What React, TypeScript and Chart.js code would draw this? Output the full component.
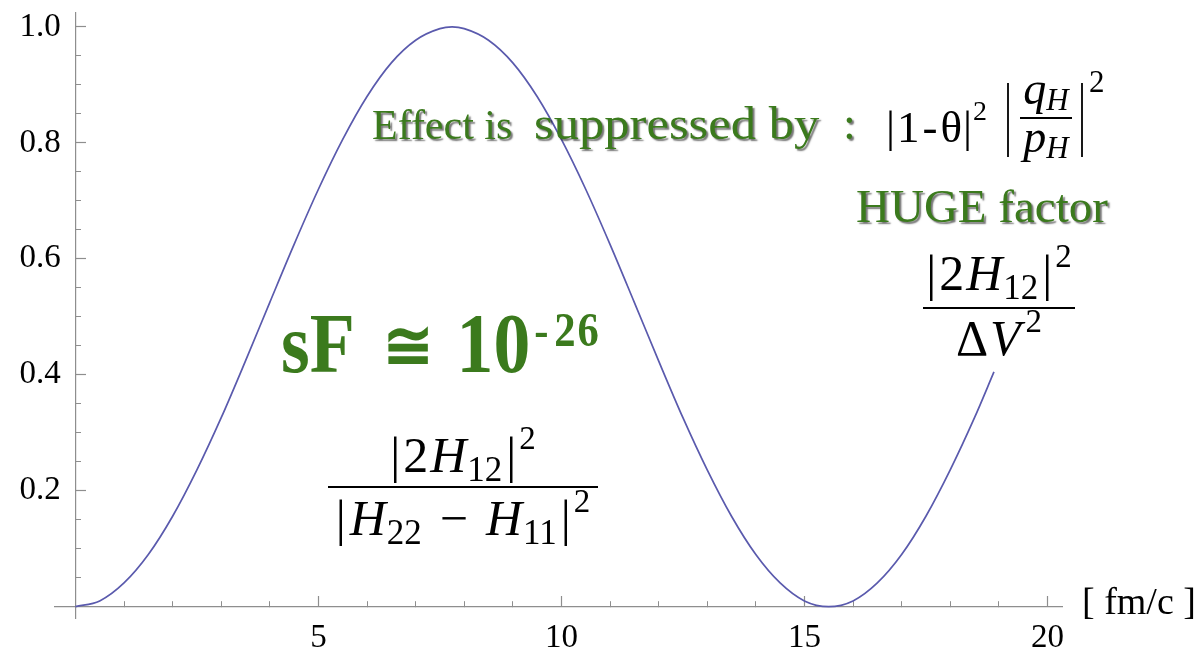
import { useEffect, useRef } from "react";
import { Chart, registerables } from "chart.js";

Chart.register(...registerables);

// Transition probability vs. time (fm/c)
const timeFmC = [
  0, 0.5, 1, 1.5, 2, 2.5, 3, 3.5, 4, 4.5, 5, 5.5, 6, 6.5, 7, 7.5, 7.75, 8, 8.5, 9, 9.5, 10,
  10.5, 11, 11.5, 12, 12.5, 13, 13.5, 14, 14.5, 15, 15.5, 16, 16.5, 17, 17.5, 18, 18.5, 18.9,
];
const probability = [
  0, 0.01, 0.041, 0.09, 0.156, 0.236, 0.326, 0.424, 0.525, 0.625, 0.72, 0.806, 0.88, 0.938,
  0.977, 0.997, 1.0, 0.997, 0.977, 0.938, 0.88, 0.806, 0.72, 0.625, 0.525, 0.424, 0.326, 0.236,
  0.156, 0.09, 0.041, 0.01, 0, 0.01, 0.041, 0.09, 0.156, 0.236, 0.326, 0.405,
];

const xMinorTicks = [1, 2, 3, 4, 6, 7, 8, 9, 11, 12, 13, 14, 16, 17, 18, 19];
const xMajorTicks = [5, 10, 15, 20];
const yMinorTicks = [
  0.05, 0.1, 0.15, 0.25, 0.3, 0.35, 0.45, 0.5, 0.55, 0.65, 0.7, 0.75, 0.85, 0.9, 0.95,
];
const yMajorTicks = [0.2, 0.4, 0.6, 0.8, 1.0];
const xUnitLabel = "[ fm/c ]";

const X_MIN = -0.42;
const X_MAX = 20.3;
const Y_MIN = -0.0195;
const Y_MAX = 1.024;

const SERIF = '"Liberation Serif", "Times New Roman", Times, serif';
const GREEN = "#3b7a1d";
const INK = "#000000";
const AXIS = "#8e8e8e";

type Piece = { t: string; s: number; it?: boolean; b?: boolean; dy?: number; gap?: number };

const fontOf = (p: Piece) => `${p.it ? "italic " : ""}${p.b ? "bold " : ""}${p.s}px ${SERIF}`;

function runWidth(ctx: CanvasRenderingContext2D, pieces: Piece[]) {
  let w = 0;
  for (const p of pieces) {
    ctx.font = fontOf(p);
    w += (p.gap || 0) + ctx.measureText(p.t).width;
  }
  return w;
}

function drawRun(
  ctx: CanvasRenderingContext2D,
  pieces: Piece[],
  x: number,
  y: number,
  align: "left" | "center" = "left"
) {
  let cx = align === "center" ? x - runWidth(ctx, pieces) / 2 : x;
  ctx.textAlign = "left";
  ctx.textBaseline = "alphabetic";
  for (const p of pieces) {
    cx += p.gap || 0;
    ctx.font = fontOf(p);
    ctx.fillText(p.t, cx, y + (p.dy || 0));
    cx += ctx.measureText(p.t).width;
  }
  return cx;
}

function drawFraction(
  ctx: CanvasRenderingContext2D,
  num: Piece[],
  den: Piece[],
  cx: number,
  numY: number,
  barY: number,
  denY: number,
  barHalf: number
) {
  drawRun(ctx, num, cx, numY, "center");
  drawRun(ctx, den, cx, denY, "center");
  ctx.fillRect(cx - barHalf, barY - 1, barHalf * 2, 2);
}

const F = 50;
const SUB = 35;
const SUP = 33;

const h12Squared: Piece[] = [
  { t: "|", s: F },
  { t: "2", s: F, gap: 3 },
  { t: "H", s: F, it: true, gap: 2 },
  { t: "12", s: SUB, dy: 9, gap: 1 },
  { t: "|", s: F, gap: 4 },
  { t: "2", s: SUP, dy: -23, gap: 3 },
];
const deltaVSquared: Piece[] = [
  { t: "Δ", s: F },
  { t: "V", s: F, it: true, gap: 2 },
  { t: "2", s: SUP, dy: -23, gap: 5 },
];
const hDiffSquared: Piece[] = [
  { t: "|", s: F },
  { t: "H", s: F, it: true, gap: 4 },
  { t: "22", s: SUB, dy: 9, gap: 1 },
  { t: "−", s: F, gap: 18 },
  { t: "H", s: F, it: true, gap: 18 },
  { t: "11", s: SUB, dy: 9, gap: 1 },
  { t: "|", s: F, gap: 4 },
  { t: "2", s: SUP, dy: -23, gap: 3 },
];

function drawStretched(
  ctx: CanvasRenderingContext2D,
  pieces: Piece[],
  x: number,
  y: number,
  sx: number,
  sy: number
) {
  ctx.save();
  ctx.translate(x, y);
  ctx.scale(sx, sy);
  drawRun(ctx, pieces, 0, 0);
  ctx.restore();
}

const annotations = {
  id: "slideAnnotations",
  afterDraw(chart: Chart) {
    const ctx = chart.ctx;
    ctx.save();

    // axis unit
    ctx.fillStyle = INK;
    drawRun(ctx, [{ t: xUnitLabel, s: 38 }], 1082, 614);

    // green embossed captions
    ctx.save();
    ctx.fillStyle = GREEN;
    ctx.shadowColor = "rgba(25,25,25,0.6)";
    ctx.shadowOffsetX = 2;
    ctx.shadowOffsetY = 2;
    ctx.shadowBlur = 1.5;
    drawRun(ctx, [{ t: "Effect is", s: 42 }], 372, 139);
    drawStretched(ctx, [{ t: "suppressed by", s: 46 }], 534, 139, 1.1, 1);
    drawRun(ctx, [{ t: ":", s: 46 }], 843, 139);
    drawRun(ctx, [{ t: "HUGE factor", s: 47 }], 856, 222);
    ctx.restore();

    // sF ≅ 10^-26
    ctx.save();
    ctx.fillStyle = GREEN;
    drawStretched(
      ctx,
      [
        { t: "sF", s: 76, b: true },
        { t: "≅", s: 62, b: true, gap: 29, dy: -3 },
        { t: "10", s: 76, b: true, gap: 24 },
        { t: "-", s: 44, b: true, dy: -24, gap: 4 },
        { t: "2", s: 44, b: true, dy: -24, gap: 6 },
        { t: "6", s: 44, b: true, dy: -24, gap: 2 },
      ],
      281,
      372,
      0.97,
      1.1
    );
    ctx.restore();

    ctx.fillStyle = INK;

    // |1-θ|² |q_H / p_H|²
    drawRun(
      ctx,
      [
        { t: "|", s: 45 },
        { t: "1", s: 45, gap: 2 },
        { t: "-", s: 45, gap: 3 },
        { t: "θ", s: 45, gap: 3 },
        { t: "|", s: 45, gap: 1 },
        { t: "2", s: 28, dy: -22, gap: 1 },
      ],
      886,
      142
    );
    ctx.strokeStyle = INK;
    ctx.lineWidth = 1.8;
    ctx.beginPath();
    ctx.moveTo(1008, 83);
    ctx.lineTo(1008, 157);
    ctx.moveTo(1082, 83);
    ctx.lineTo(1082, 157);
    ctx.stroke();
    drawFraction(
      ctx,
      [
        { t: "q", s: 46, it: true },
        { t: "H", s: 31, it: true, dy: 6 },
      ],
      [
        { t: "p", s: 46, it: true },
        { t: "H", s: 31, it: true, dy: 6 },
      ],
      1046,
      104,
      118,
      152,
      26
    );
    drawRun(ctx, [{ t: "2", s: 31 }], 1089, 92);

    // |2H12|² / ΔV²
    drawFraction(ctx, h12Squared, deltaVSquared, 999, 290, 308, 355, 76);

    // |2H12|² / |H22 − H11|²
    drawFraction(ctx, h12Squared, hDiffSquared, 463, 472, 487, 535, 135);

    ctx.restore();
  },
};

const tickFont = { family: SERIF, size: 33 };

export default function App() {
  const canvasRef = useRef<HTMLCanvasElement | null>(null);

  useEffect(() => {
    const canvas = canvasRef.current;
    if (!canvas) return;
    const points = timeFmC.map((t, i) => ({ x: t, y: probability[i] }));

    const chart = new Chart(canvas, {
      type: "line",
      data: {
        datasets: [
          {
            data: points,
            borderColor: "#5a5aad",
            borderWidth: 1.7,
            pointRadius: 0,
            cubicInterpolationMode: "monotone",
            fill: false,
          },
        ],
      },
      options: {
        animation: false,
        responsive: false,
        events: [],
        layout: { padding: { left: 55, right: 139, top: 13, bottom: 36 } },
        plugins: { legend: { display: false }, tooltip: { enabled: false } },
        scales: {
          x: {
            type: "linear",
            min: X_MIN,
            max: X_MAX,
            position: { y: 0 },
            afterBuildTicks: (s: any) => {
              s.ticks = xMinorTicks.map((v) => ({ value: v }));
            },
            ticks: { display: false },
            grid: {
              display: true,
              drawOnChartArea: false,
              drawTicks: true,
              tickLength: -6,
              tickColor: AXIS,
              tickWidth: 1,
            },
            border: { display: true, color: AXIS, width: 1.2 },
          },
          xMajor: {
            type: "linear",
            axis: "x",
            min: X_MIN,
            max: X_MAX,
            position: { y: 0 },
            afterBuildTicks: (s: any) => {
              s.ticks = xMajorTicks.map((v) => ({ value: v }));
            },
            ticks: {
              display: true,
              font: tickFont,
              color: INK,
              padding: 23,
              maxRotation: 0,
              autoSkip: false,
              callback: (v: any) => String(v),
            },
            grid: {
              display: true,
              drawOnChartArea: false,
              drawTicks: true,
              tickLength: -11,
              tickColor: AXIS,
              tickWidth: 1.2,
            },
            border: { display: false },
          },
          y: {
            type: "linear",
            min: Y_MIN,
            max: Y_MAX,
            position: { x: 0 },
            afterBuildTicks: (s: any) => {
              s.ticks = yMinorTicks.map((v) => ({ value: v }));
            },
            ticks: { display: false },
            grid: {
              display: true,
              drawOnChartArea: false,
              drawTicks: true,
              tickLength: -6,
              tickColor: AXIS,
              tickWidth: 1,
            },
            border: { display: true, color: AXIS, width: 1.2 },
          },
          yMajor: {
            type: "linear",
            axis: "y",
            min: Y_MIN,
            max: Y_MAX,
            position: { x: 0 },
            afterBuildTicks: (s: any) => {
              s.ticks = yMajorTicks.map((v) => ({ value: v }));
            },
            ticks: { display: false },
            grid: {
              display: true,
              drawOnChartArea: false,
              drawTicks: true,
              tickLength: -11,
              tickColor: AXIS,
              tickWidth: 1.2,
            },
            border: { display: false },
          },
          yLabels: {
            type: "linear",
            axis: "y",
            min: Y_MIN,
            max: Y_MAX,
            position: { x: -0.3 },
            afterBuildTicks: (s: any) => {
              s.ticks = yMajorTicks.map((v) => ({ value: v }));
            },
            ticks: {
              display: true,
              font: { ...tickFont, lineHeight: 0.7 },
              color: INK,
              padding: 0,
              autoSkip: false,
              callback: (v: any) => Number(v).toFixed(1),
            },
            grid: { display: false },
            border: { display: false },
          },
        },
      } as any,
      plugins: [annotations],
    });

    return () => chart.destroy();
  }, []);

  return (
    <div
      style={{
        position: "fixed",
        left: 0,
        top: 0,
        width: 1201,
        height: 654,
        background: "#ffffff",
      }}
    >
      <canvas ref={canvasRef} width={1201} height={654} style={{ display: "block" }} />
    </div>
  );
}
